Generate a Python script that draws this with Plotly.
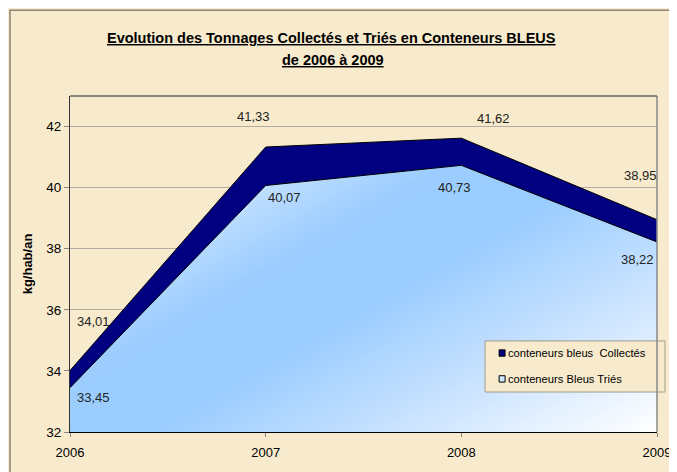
import numpy as np
import plotly.graph_objects as go

years = [2006, 2007, 2008, 2009]
collectes = [34.01, 41.33, 41.62, 38.95]
tries = [33.45, 40.07, 40.73, 38.22]
collectes_lbl = ["34,01", "41,33", "41,62", "38,95"]
tries_lbl = ["33,45", "40,07", "40,73", "38,22"]
series_names = ["conteneurs bleus  Collectés", "conteneurs Bleus Triés"]
y_ticks = [32, 34, 36, 38, 40, 42]
x_ticks = [2006, 2007, 2008, 2009]
y_range = [32, 43]

BG = "#f8ebcd"
FONT = "Liberation Sans, Arial, sans-serif"
NAVY = "#000080"
LIGHT = "#cfe6ff"

# diagonal gradient fill under the "Triés" curve (styling only)
gx = np.linspace(years[0], years[-1], 295)
gy = np.linspace(y_range[0], y_range[1], 170)
GX, GY = np.meshgrid(gx, gy)
u = (GX - years[0]) / (years[-1] - years[0])
w = (y_range[1] - GY) / (y_range[1] - y_range[0])
t = (u + w) / 2.0
under = GY <= np.interp(GX, years, tries) + (gy[1] - gy[0]) * 1.5
Z = np.where(under, t, np.nan)

fig = go.Figure()
fig.add_trace(go.Heatmap(
    x=gx, y=gy, z=Z, showscale=False, hoverinfo="skip", zmin=0, zmax=1,
    colorscale=[[0, "#ffffff"], [0.2, "#dcedff"], [0.42, "#9dcdff"], [0.56, "#99ccff"],
                [0.75, "#c4e0ff"], [1, "#ffffff"]],
))
fig.add_trace(go.Scatter(
    x=years, y=tries, mode="lines", name=series_names[1], showlegend=False,
    line=dict(color="black", width=1),
))
fig.add_trace(go.Scatter(
    x=years, y=collectes, mode="lines", name=series_names[0], showlegend=False,
    line=dict(color="black", width=1), fill="tonexty", fillcolor=NAVY,
))

# data labels (offsets in pixels from the data points)
c_off = [(23, 49), (-12, 31), (32, 20), (-17, 44)]
t_off = [(23, -10), (19, -12), (-7, -22), (-20, -17)]
for x, y, txt, (dx, dy) in zip(years, collectes, collectes_lbl, c_off):
    fig.add_annotation(x=x, y=y, text=txt, showarrow=False, xshift=dx, yshift=dy,
                       font=dict(size=13, color="#222222"))
for x, y, txt, (dx, dy) in zip(years, tries, tries_lbl, t_off):
    fig.add_annotation(x=x, y=y, text=txt, showarrow=False, xshift=dx, yshift=dy,
                       font=dict(size=13, color="#222222"))

# title
fig.add_annotation(xref="paper", yref="paper", x=0.446, y=1.1726, yanchor="middle",
                   text="<b><u>Evolution des Tonnages Collectés et Triés en Conteneurs BLEUS</u></b>",
                   showarrow=False, font=dict(size=14.5, color="black"))
fig.add_annotation(xref="paper", yref="paper", x=0.448, y=1.107, yanchor="middle",
                   text="<b><u>de 2006 à 2009</u></b>",
                   showarrow=False, font=dict(size=14.5, color="black"))

# outer frame (top and left edges of the chart area)
fig.add_shape(type="rect", xref="paper", yref="paper", x0=-0.1022, x1=1.2, y0=-0.3, y1=1.2555,
              line=dict(color="#8a8478", width=1.5), layer="below")

# manual legend
fig.add_shape(type="rect", xref="paper", yref="paper", x0=0.707, x1=1.0136, y0=0.119, y1=0.271,
              line=dict(color="#a09a8e", width=1), fillcolor=BG)
leg_y = [0.235, 0.158]
leg_col = [NAVY, LIGHT]
for name, yy, col in zip(series_names, leg_y, leg_col):
    fig.add_shape(type="rect", xref="paper", yref="paper",
                  x0=0.7310, x1=0.7412, y0=yy - 0.0095, y1=yy + 0.0095,
                  line=dict(color="black", width=1), fillcolor=col)
    fig.add_annotation(xref="paper", yref="paper", x=0.742, y=yy, xanchor="left",
                       yanchor="middle", text=name, showarrow=False,
                       font=dict(size=11.2, color="black"))

fig.update_layout(
    width=669, height=464,
    margin=dict(l=62, r=20, t=88, b=40, autoexpand=False),
    paper_bgcolor=BG, plot_bgcolor=BG,
    font=dict(family=FONT, size=13, color="black"),
    showlegend=False,
)
fig.update_xaxes(range=[years[0], years[-1]], tickvals=x_ticks, ticktext=[str(v) for v in x_ticks],
                 showgrid=False, zeroline=False, showline=True, linecolor="black",
                 ticks="outside", ticklen=4, tickcolor="#888888",
                 tickfont=dict(size=13), ticklabelstandoff=4)
fig.update_yaxes(range=y_range, tickvals=y_ticks, showgrid=True, gridcolor="#b5ad9f",
                 gridwidth=1, zeroline=False, showline=True, linecolor="#333333",
                 ticks="outside", ticklen=5, tickcolor="#888888",
                 tickfont=dict(size=13.5),
                 title=dict(text="<b>kg/hab/an</b>", font=dict(size=13), standoff=10))
fig.add_shape(type="line", xref="paper", yref="paper", x0=1, x1=1, y0=0, y1=1,
              line=dict(color="#888888", width=1.5))
fig.add_shape(type="line", xref="paper", yref="paper", x0=0, x1=1, y0=1, y1=1,
              line=dict(color="#666666", width=1.5))

fig.write_html("out.html")
